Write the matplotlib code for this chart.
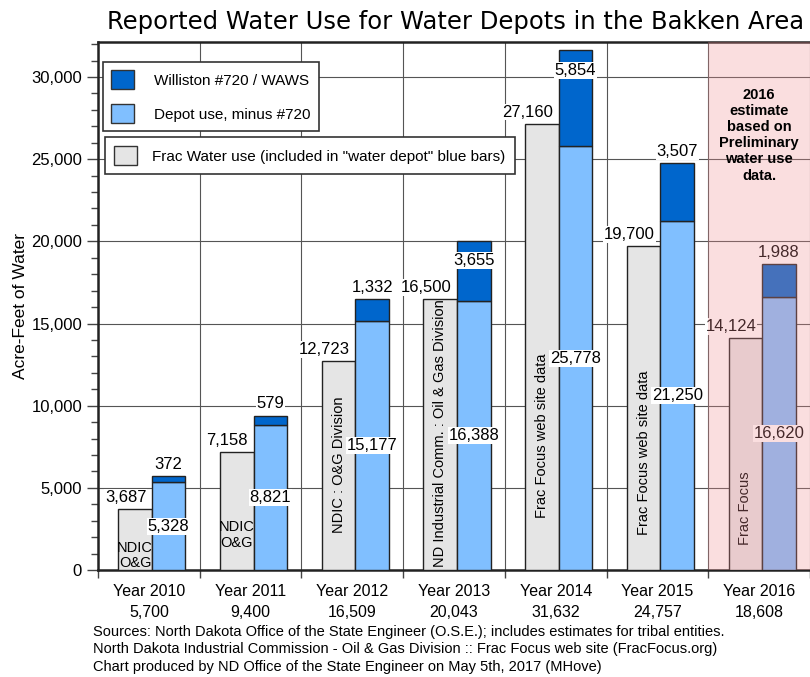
import matplotlib
matplotlib.use('Agg')
import matplotlib.pyplot as plt
import numpy as np
from matplotlib.patches import Patch
from matplotlib.ticker import MultipleLocator, FuncFormatter

# data (acre-feet)
years = ['2010', '2011', '2012', '2013', '2014', '2015', '2016']
frac_use = [3687, 7158, 12723, 16500, 27160, 19700, 14124]
depot_minus_720 = [5328, 8821, 15177, 16388, 25778, 21250, 16620]
williston_720 = [372, 579, 1332, 3655, 5854, 3507, 1988]
totals = [5700, 9400, 16509, 20043, 31632, 24757, 18608]
frac_sources = ['NDIC\nO&G', 'NDIC\nO&G', 'NDIC : O&G Division',
                'ND Industrial Comm. : Oil & Gas Division',
                'Frac Focus web site data', 'Frac Focus web site data', 'Frac Focus']

plt.rcParams['font.family'] = ['Liberation Sans', 'DejaVu Sans']

fig = plt.figure(figsize=(8.1, 6.77), dpi=100)
ax = fig.add_axes([98/810, 107/677, 712/810, 528/677])

x = np.arange(len(years))
w = 0.33
gx = x - w/2 + 0.03
bx = x + w/2 + 0.03
edge = '#222222'
ax.bar(gx, frac_use, w, color='#e5e5e5', edgecolor=edge, lw=1, zorder=3)
ax.bar(bx, depot_minus_720, w, color='#80bfff', edgecolor=edge, lw=1, zorder=3)
ax.bar(bx, williston_720, w, bottom=depot_minus_720, color='#0066cc',
       edgecolor=edge, lw=1, zorder=3)

ax.set_xlim(-0.5, 6.5)
ax.set_ylim(0, 32130)

# grid / ticks
ax.set_axisbelow(True)
ax.yaxis.set_major_locator(MultipleLocator(5000))
ax.yaxis.set_minor_locator(MultipleLocator(1000))
ax.yaxis.set_major_formatter(FuncFormatter(lambda v, p: f'{int(v):,}'))
ax.set_xticks(x)
ax.set_xticklabels([f'Year {y}\n{t:,}' for y, t in zip(years, totals)], fontsize=11.5,
                   linespacing=1.55)
ax.set_xticks(np.arange(-0.5, 7, 1), minor=True)
ax.tick_params(axis='x', which='major', length=0, pad=10)
ax.tick_params(axis='x', which='minor', length=6, width=1, color='#444')
ax.tick_params(axis='y', which='major', length=8, width=1, labelsize=12, color='#444')
ax.tick_params(axis='y', which='minor', length=5, width=1, color='#444')
ax.grid(True, axis='y', which='major', color='#555555', lw=0.8)
ax.grid(True, axis='x', which='minor', color='#555555', lw=0.8)
for s in ['top', 'left', 'bottom']:
    ax.spines[s].set_linewidth(1.8)
    ax.spines[s].set_color('#222')
ax.spines['right'].set_visible(False)

ax.set_ylabel('Acre-Feet of Water', fontsize=12.5, labelpad=2)

# value labels
box = dict(facecolor='white', edgecolor='none', pad=0.6)
for i in range(len(years)):
    ax.text(bx[i], depot_minus_720[i] / 2, f'{depot_minus_720[i]:,}',
            ha='center', va='center', fontsize=12, bbox=box, zorder=5)
    ax.annotate(f'{frac_use[i]:,}', (gx[i] + w/2, frac_use[i]), xytext=(-4, 3),
                textcoords='offset points', ha='right', va='bottom', fontsize=12,
                bbox=box, zorder=5)
    if i in (3, 4):
        # no room above these two, label sits inside the dark segment
        ax.annotate(f'{williston_720[i]:,}', (bx[i], totals[i]), xytext=(0, -9),
                    textcoords='offset points', ha='center', va='top', fontsize=12,
                    bbox=box, zorder=5)
    else:
        ax.annotate(f'{williston_720[i]:,}', (bx[i], totals[i]), xytext=(0, 3),
                    textcoords='offset points', ha='center', va='bottom', fontsize=12,
                    bbox=box, zorder=5)

# frac water data sources written inside the grey bars
ax.text(gx[0], 900, frac_sources[0], ha='center', va='center', fontsize=10.5,
        linespacing=1.1, zorder=5)
ax.text(gx[1], 2130, frac_sources[1], ha='center', va='center', fontsize=10.5,
        linespacing=1.1, zorder=5)
ax.text(gx[2], 2250, frac_sources[2], rotation=90, ha='center', va='bottom',
        fontsize=10.5, zorder=5)
ax.text(gx[3], 200, frac_sources[3], rotation=90, ha='center', va='bottom',
        fontsize=10.5, zorder=5)
ax.text(gx[4], 3170, frac_sources[4], rotation=90, ha='center', va='bottom',
        fontsize=10.5, zorder=5)
ax.text(gx[5], 2130, frac_sources[5], rotation=90, ha='center', va='bottom',
        fontsize=10.5, zorder=5)
ax.text(gx[6], 1520, frac_sources[6], rotation=90, ha='center', va='bottom',
        fontsize=10.5, zorder=5)

# 2016 estimate shading (overlay tints bars and labels)
ax.axvspan(5.5, 6.5, facecolor=(240/255, 142/255, 147/255), alpha=0.29, lw=0, zorder=6)
ax.text(6.0, 29350, '2016\nestimate\nbased on\nPreliminary\nwater use\ndata.',
        ha='center', va='top', fontsize=10.5, fontweight='bold', linespacing=1.2, zorder=7)

# legends
leg1 = ax.legend(handles=[Patch(facecolor='#0066cc', edgecolor='#333'),
                          Patch(facecolor='#80bfff', edgecolor='#333')],
                 labels=['Williston #720 / WAWS', 'Depot use, minus #720'],
                 loc='upper left', bbox_to_anchor=(0.007, 0.962), borderaxespad=0,
                 fontsize=11, handlelength=1.5, handleheight=1.5, labelspacing=1.0,
                 handletextpad=1.3, borderpad=0.55, fancybox=False, edgecolor='#333',
                 framealpha=1)
leg1.get_frame().set_linewidth(1.2)
leg1.set_zorder(8)
ax.add_artist(leg1)
leg2 = ax.legend(handles=[Patch(facecolor='#e5e5e5', edgecolor='#333')],
                 labels=['Frac Water use (included in "water depot" blue bars)'],
                 loc='upper left', bbox_to_anchor=(0.01, 0.82), borderaxespad=0,
                 fontsize=11, handlelength=1.5, handleheight=1.5, handletextpad=1.0,
                 borderpad=0.6, fancybox=False, edgecolor='#333', framealpha=1)
leg2.get_frame().set_linewidth(1.2)
leg2.set_zorder(8)

fig.text(456/810, 1 - 22/677, 'Reported Water Use for Water Depots in the Bakken Area',
         ha='center', va='center', fontsize=17.5, family='DejaVu Sans')

fig.text(93/810, 1 - 625/677,
         'Sources: North Dakota Office of the State Engineer (O.S.E.); includes estimates for tribal entities.\n'
         'North Dakota Industrial Commission - Oil & Gas Division :: Frac Focus web site (FracFocus.org)\n'
         'Chart produced by ND Office of the State Engineer on May 5th, 2017 (MHove)',
         ha='left', va='top', fontsize=10.5, linespacing=1.3)

fig.savefig('out.png', dpi=100)
